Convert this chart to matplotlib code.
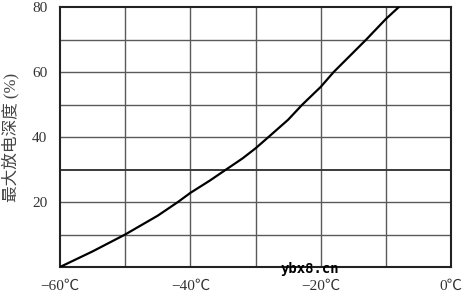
import matplotlib
matplotlib.use('Agg')
import matplotlib.pyplot as plt

# temperature (C) vs max depth of discharge (%)
temps = [-60, -55, -50, -45, -41.9, -40, -37, -34.8, -32, -30, -28, -25, -22.8, -20, -18, -15.5, -13, -10, -8]
depth = [0, 4.8, 10, 15.8, 20, 22.8, 26.6, 29.6, 33.4, 36.5, 40, 45.3, 50, 55.4, 60, 65, 70, 76.3, 80]

xticks = [-60, -40, -20, 0]
xlabels = ['\u221260\u2103', '\u221240\u2103', '\u221220\u2103', '0\u2103']
yticks = [20, 40, 60, 80]

fam = ['Liberation Serif', 'Noto Sans CJK SC']

fig = plt.figure(figsize=(4.67, 2.96), dpi=100)
ax = fig.add_axes([60/467, 29/296, 391/467, 260/296])

for x in range(-50, 0, 10):
    ax.axvline(x, color='#5a5a5a', lw=1.0, zorder=1)
for y in range(10, 80, 10):
    ax.axhline(y, color='#3a3a3a' if y == 30 else '#5a5a5a', lw=1.4 if y == 30 else 1.0, zorder=1)

ax.plot(temps, depth, color='black', lw=1.6, zorder=3)

ax.set_xlim(-60, 0)
ax.set_ylim(0, 80)
ax.set_xticks(xticks)
ax.set_xticklabels(xlabels, family=fam, fontsize=11, color='#333333')
ax.set_yticks(yticks)
ax.set_yticklabels([str(v) for v in yticks], family=fam, fontsize=11, color='#333333')
ax.tick_params(length=0, pad=9)
for s in ax.spines.values():
    s.set_linewidth(1.5)
    s.set_color('#222222')

ax.set_ylabel('最大放电深度 (%)', family=fam, fontsize=12, color='#444444', labelpad=9)

fig.text(310/467, 1 - 269/296, 'ybx8.cn', family='DejaVu Sans Mono', fontsize=10,
         fontweight='bold', ha='center', va='center', color='black')

fig.savefig('out.png', dpi=100)
